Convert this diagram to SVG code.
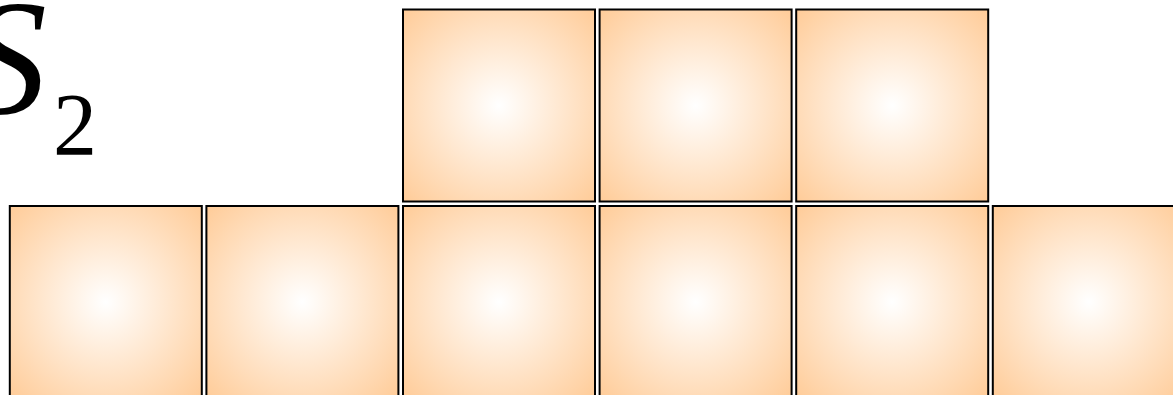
<svg xmlns="http://www.w3.org/2000/svg" width="1173" height="395" viewBox="0 0 1173 395">
<style>
.cell{fill:url(#g);stroke:#000;stroke-width:2}
</style>
<defs>
<radialGradient id="g" cx="0.5" cy="0.5" r="0.7">
<stop offset="0" stop-color="#FFFFFF"/>
<stop offset="1" stop-color="#FFCC99"/>
</radialGradient>
</defs>
<g id="label" font-family="'Liberation Serif', 'Times New Roman', serif" fill="#000">
<text x="-36" y="113" font-size="166" font-style="italic">S</text>
<text x="53" y="154" font-size="88">2</text>
</g>
<g id="top-row">
<rect id="t1" class="cell" x="403" y="9.5" width="192" height="192"/>
<rect id="t2" class="cell" x="599.6" y="9.5" width="192" height="192"/>
<rect id="t3" class="cell" x="796.2" y="9.5" width="192" height="192"/>
</g>
<g id="bottom-row">
<rect id="b1" class="cell" x="9.8" y="206" width="192" height="192"/>
<rect id="b2" class="cell" x="206.4" y="206" width="192" height="192"/>
<rect id="b3" class="cell" x="403" y="206" width="192" height="192"/>
<rect id="b4" class="cell" x="599.6" y="206" width="192" height="192"/>
<rect id="b5" class="cell" x="796.2" y="206" width="192" height="192"/>
<rect id="b6" class="cell" x="992.8" y="206" width="192" height="192"/>
</g>
</svg>
